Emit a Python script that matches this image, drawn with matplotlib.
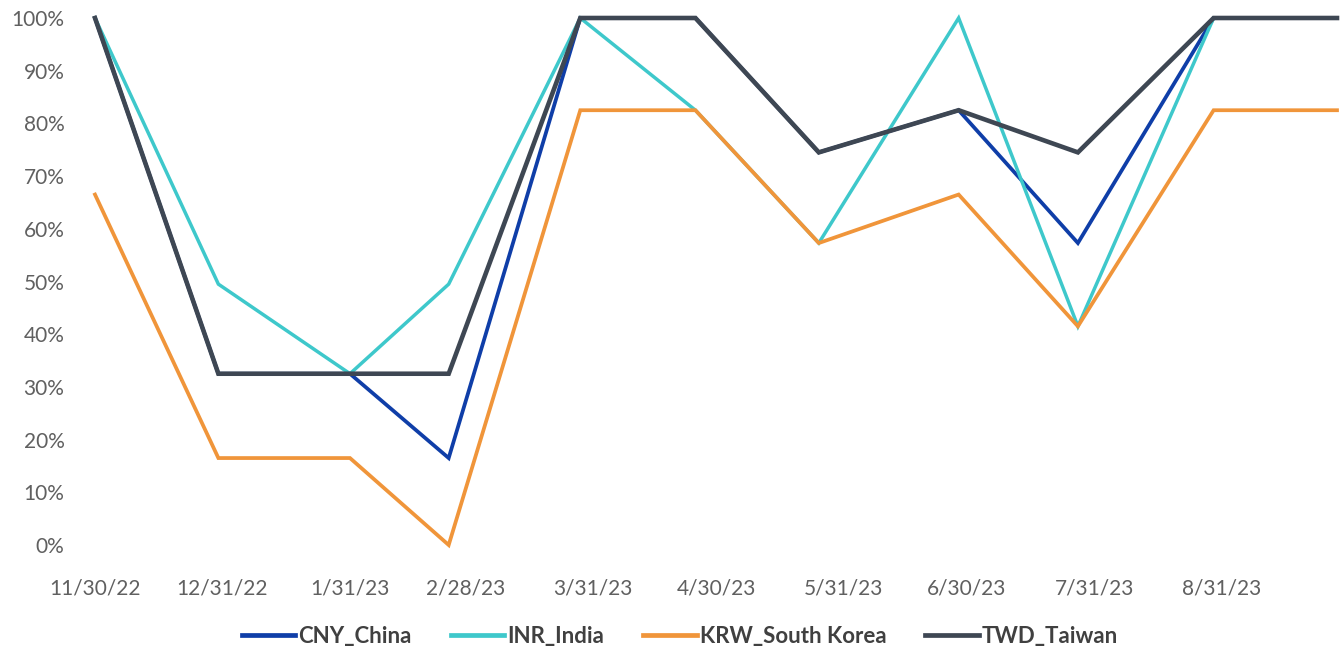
import datetime as dt
import matplotlib
matplotlib.use("Agg")
import matplotlib.pyplot as plt
import matplotlib.dates as mdates
from matplotlib.ticker import PercentFormatter, FixedLocator

# observation dates (read off the picture, not quite month ends)
dates = ["2022-11-30", "2022-12-30", "2023-01-31", "2023-02-24", "2023-03-28",
         "2023-04-25", "2023-05-25", "2023-06-28", "2023-07-27", "2023-08-29",
         "2023-09-28"]
tick_dates = ["2022-11-30", "2022-12-31", "2023-01-31", "2023-02-28", "2023-03-31",
              "2023-04-30", "2023-05-31", "2023-06-30", "2023-07-31", "2023-08-31"]

cny = [1.00, 0.325, 0.325, 0.165, 1.00, 1.00, 0.745, 0.825, 0.573, 1.00, 1.00]
inr = [1.00, 0.495, 0.325, 0.495, 1.00, 0.825, 0.573, 1.00, 0.415, 1.00, 1.00]
krw = [0.665, 0.165, 0.165, 0.0, 0.825, 0.825, 0.573, 0.665, 0.415, 0.825, 0.825]
twd = [1.00, 0.325, 0.325, 0.325, 1.00, 1.00, 0.745, 0.825, 0.745, 1.00, 1.00]

labels = ["CNY_China", "INR_India", "KRW_South Korea", "TWD_Taiwan"]
colors = ["#0f3ea8", "#3ec8cb", "#f0953a", "#3e4753"]
widths = [2.7, 2.5, 2.7, 3.3]

x = [dt.datetime.strptime(d, "%Y-%m-%d") for d in dates]
xt = [dt.datetime.strptime(d, "%Y-%m-%d") for d in tick_dates]

plt.rcParams["font.family"] = ["Lato", "DejaVu Sans"]

fig = plt.figure(figsize=(13.44, 6.53), dpi=100)
ax = fig.add_axes([95 / 1344, 1 - 545 / 653, (1337 - 95) / 1344, (545 - 18) / 653])

for vals, lab, col, lw in zip([cny, inr, krw, twd], labels, colors, widths):
    ax.plot(x, vals, color=col, lw=lw, label=lab, clip_on=False,
            solid_joinstyle="miter")

ax.set_xlim(x[0], x[-1])
ax.set_ylim(0, 1)
ax.set_yticks([i / 10 for i in range(11)])
ax.yaxis.set_major_formatter(PercentFormatter(1.0, decimals=0))
ax.xaxis.set_major_locator(FixedLocator(mdates.date2num(xt)))
ax.xaxis.set_major_formatter(mdates.DateFormatter("%-m/%d/%y"))

for s in ax.spines.values():
    s.set_visible(False)
ax.tick_params(length=0, labelsize=15, colors="#606060")
ax.tick_params(axis="y", pad=22)
ax.tick_params(axis="x", pad=24)

leg = fig.legend(loc="center", bbox_to_anchor=(0.506, 1 - 636 / 653), ncol=4,
                 frameon=False, handlelength=2.4, columnspacing=1.75,
                 handletextpad=0.15, prop={"size": 16, "weight": "bold"})
for t in leg.get_texts():
    t.set_color("#404040")
for h in leg.legend_handles:
    h.set_linewidth(3.4)

fig.savefig("out.png", dpi=100)
